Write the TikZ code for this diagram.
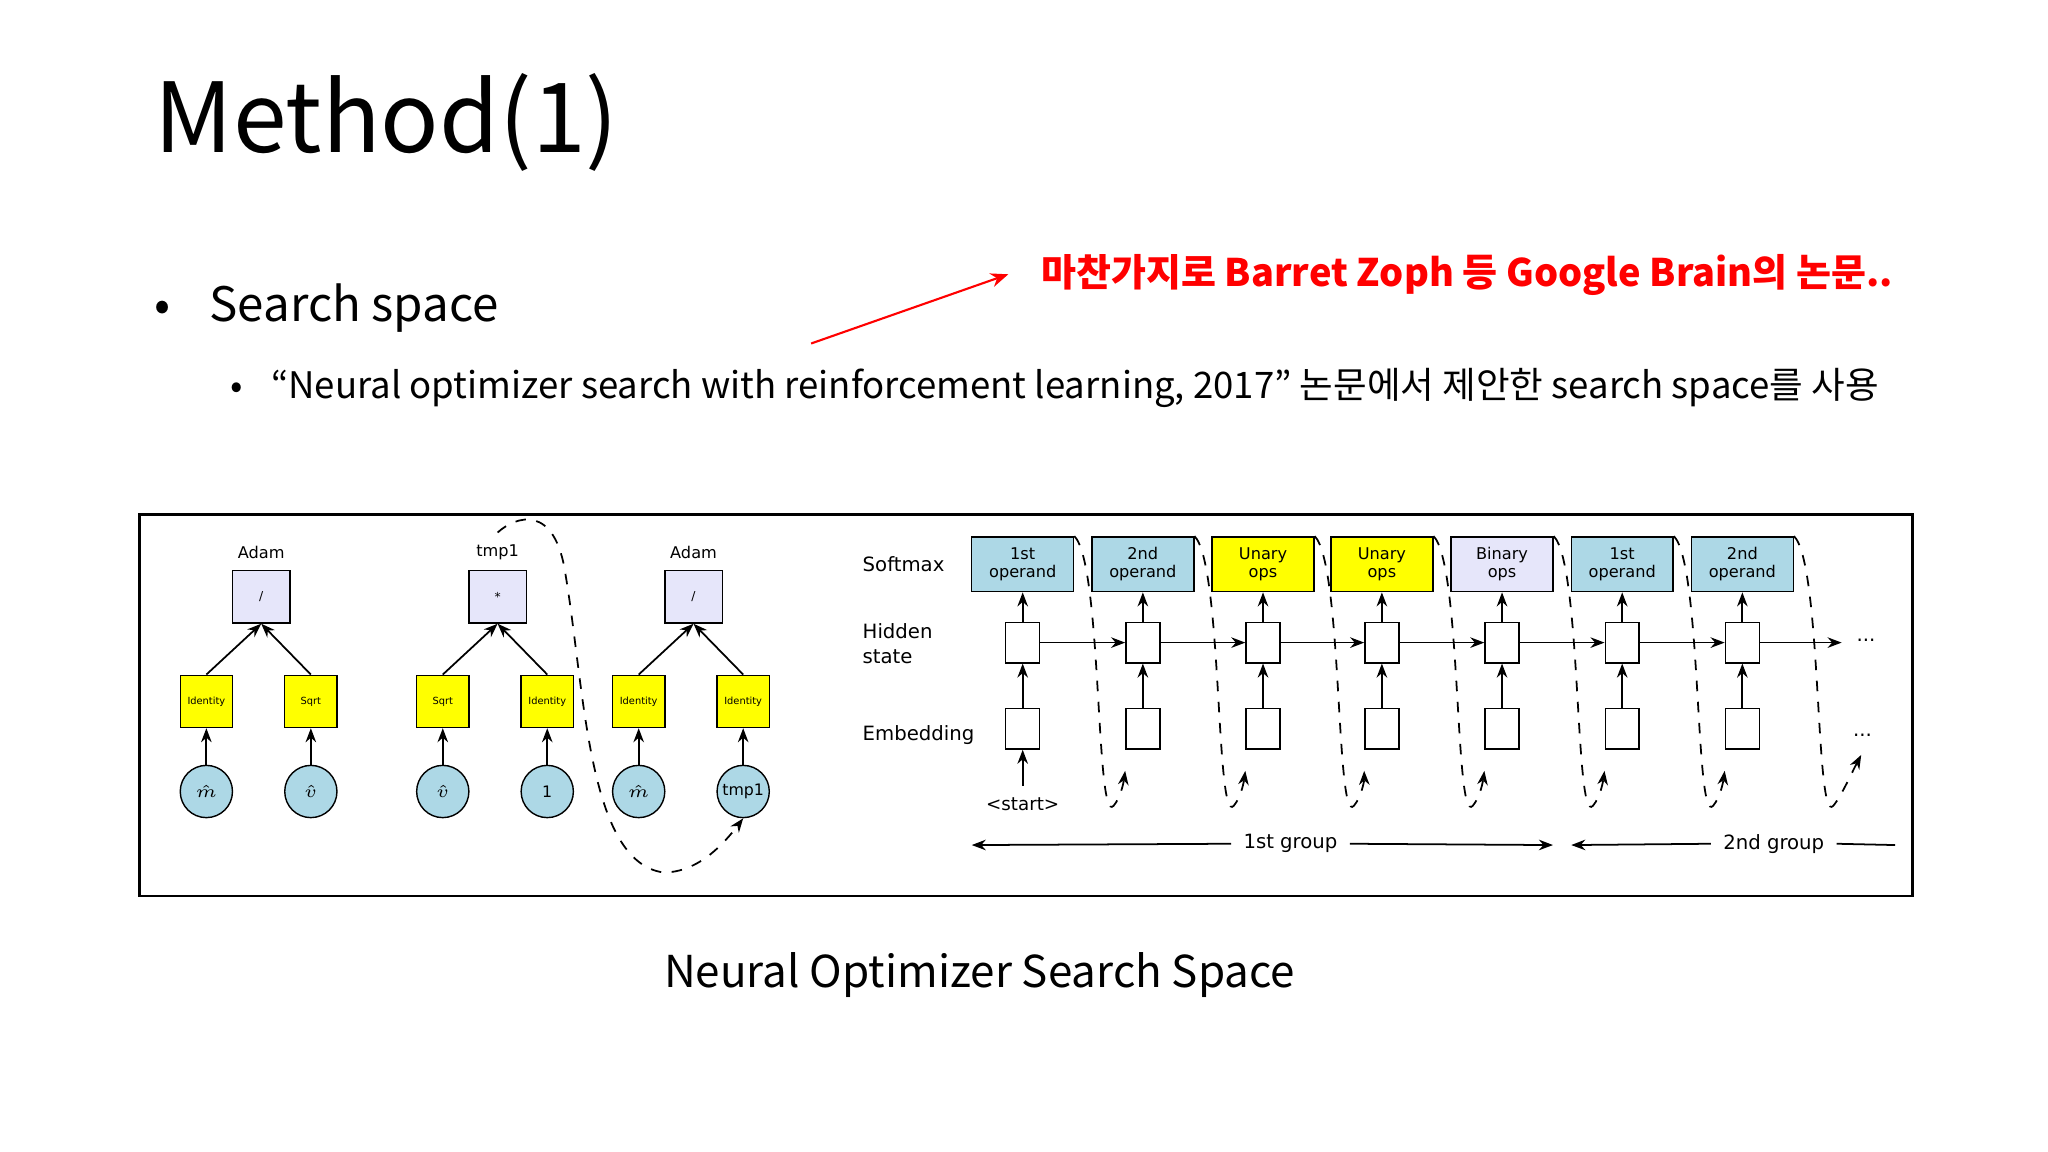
\documentclass[tikz,border=0pt]{standalone}
\usepackage{fontspec}
\setmainfont{Noto Sans CJK KR}
\newfontfamily\dv{DejaVu Sans}
\usetikzlibrary{arrows.meta}
\definecolor{lb}{RGB}{173,216,230}
\definecolor{lav}{RGB}{230,230,250}
\definecolor{yl}{RGB}{255,255,0}
\begin{document}
\begin{tikzpicture}[x=0.01306cm,y=-0.01306cm,
  op/.style={draw,fill=lav,minimum width=44*0.01306cm,minimum height=40*0.01306cm,inner sep=0pt,font=\dv\fontsize{3.5}{4}\selectfont},
  yb/.style={draw,fill=yl,minimum width=40*0.01306cm,minimum height=40*0.01306cm,inner sep=0pt,font=\dv\fontsize{2.8}{3}\selectfont},
  cir/.style={draw,fill=lb,circle,minimum size=40*0.01306cm,inner sep=0pt,font=\dv\fontsize{4.5}{5}\selectfont},
  sm/.style={draw,minimum width=78*0.01306cm,minimum height=42*0.01306cm,inner sep=0pt,align=center,font=\dv\fontsize{4.6}{5.2}\selectfont},
  hb/.style={draw,fill=white,minimum width=26*0.01306cm,minimum height=31*0.01306cm,inner sep=0pt},
  lbl/.style={font=\dv\fontsize{5.6}{7}\selectfont},
  ar/.style={-{Stealth[length=4pt,width=3pt]},line width=0.5pt},
  dsh/.style={dashed,line width=0.5pt,dash pattern=on 3pt off 3pt}]
\fill[white] (0,0) rectangle (1568,882);
\useasboundingbox (0,0) rectangle (1568,882);
\node[anchor=base west,inner sep=0pt,font=\fontsize{27.5}{30}\selectfont] (title) at (118,117) {Method(1)};
\node[anchor=base west,inner sep=0pt,font=\fontsize{13.5}{15}\selectfont] (b1) at (118,246) {•\hspace{11pt}Search space};
\node[anchor=base west,inner sep=0pt,font=\fontsize{10.4}{12}\selectfont] (b2) at (176,305) {•\hspace{8pt}“Neural optimizer search with reinforcement learning, 2017” 논문에서 제안한 search space를 사용};
\node[anchor=base west,inner sep=0pt,text=red,font=\bfseries\fontsize{10.8}{12}\selectfont] (red) at (797,219) {마찬가지로 Barret Zoph 등 Google Brain의 논문..};
\coordinate (rs) at (621,263);
\coordinate (re) at (772,210);
\draw[red,-{Stealth[length=5pt,width=4pt]},line width=0.6pt] (rs) -- (re);
\node[anchor=base,inner sep=0pt,font=\fontsize{12.5}{14}\selectfont] (cap) at (750,756) {Neural Optimizer Search Space};
\draw[line width=0.8pt] (107,394) rectangle (1464,686);
% trees
\foreach \n/\cx/\lab/\opl/\la/\lb/\ca/\cb in {A/200/Adam/{/}/Identity/Sqrt/$\hat{m}$/$\hat{v}$, B/381/tmp1/*/Sqrt/Identity/$\hat{v}$/1, C/531/Adam/{/}/Identity/Identity/$\hat{m}$/tmp1}{
  \node[lbl,font=\dv\fontsize{4.6}{5}\selectfont] (\n lab) at (\cx,423) {\lab};
  \node[op] (\n op) at (\cx,457) {\opl};
  \node[yb] (\n l) at (\cx-42,537) {\la};
  \node[yb] (\n r) at (\cx+38,537) {\lb};
  \node[cir] (\n cl) at (\cx-42,606) {\ca};
  \node[cir] (\n cr) at (\cx+38,606) {\cb};
  \draw[ar] (\n l.north) -- (\n op.south);
  \draw[ar] (\n r.north) -- (\n op.south);
  \draw[ar] (\n cl) -- (\n l);
  \draw[ar] (\n cr) -- (\n r);
}
\draw[dsh,-{Stealth[length=4pt,width=3pt]}] (Blab.north) .. controls (395,395) and (425,385) .. (433,440) .. controls (448,530) and (450,660) .. (508,668) .. controls (535,668) and (555,645) .. (Ccr.south);
% RNN
\node[lbl,anchor=west] (ls) at (651,432) {Softmax};
\node[lbl,anchor=west,align=left] (lh) at (651,493) {Hidden\\state};
\node[lbl,anchor=west] (le) at (651,563) {Embedding};
\foreach \i/\x/\c/\t in {1/783/lb/{1st\\operand},2/875/lb/{2nd\\operand},3/967/yl/{Unary\\ops},4/1058/yl/{Unary\\ops},5/1150/lav/{Binary\\ops},6/1242/lb/{1st\\operand},7/1334/lb/{2nd\\operand}}{
  \node[sm,fill=\c] (s\i) at (\x,432) {\t};
  \node[hb] (h\i) at (\x,492) {};
  \node[hb] (e\i) at (\x,558) {};
  \draw[ar] (h\i) -- (s\i);
  \draw[ar] (e\i) -- (h\i);
}
\node[lbl,font=\dv\fontsize{5.2}{6}\selectfont] (st) at (783,616) {<start>};
\draw[ar] (st) -- (e1);
\foreach \i/\j in {1/2,2/3,3/4,4/5,5/6,6/7}{
  \draw[ar] (h\i) -- (h\j);
  \draw[dsh,-{Stealth[length=4pt,width=3pt]}] (s\i.north east) .. controls ([xshift=8]s\i.east) and ([shift={(16,200)}]s\i.east) .. ([shift={(30,185)}]s\i.east) .. controls ([shift={(36,178)}]s\i.east) and ([shift={(38,165)}]s\i.east) .. ([yshift=-6]e\j.south west);
}
\coordinate (hend) at (1410,492);
\node[lbl,anchor=west] (hd) at (1412,490) {...};
\draw[ar] (h7) -- (hend);
\coordinate (eend) at (1425,578);
\node[lbl] (ed) at (1426,563) {...};
\draw[dsh,-{Stealth[length=4pt,width=3pt]}] (s7.north east) .. controls ([xshift=8]s7.east) and ([shift={(16,200)}]s7.east) .. ([shift={(30,185)}]s7.east) .. controls ([shift={(36,178)}]s7.east) and ([shift={(44,160)}]s7.east) .. (eend);
\node[lbl] (g1) at (988,646) {1st group};
\node[lbl] (g2) at (1358,646) {2nd group};
\coordinate (g1l) at (744,647); \coordinate (g1r) at (1189,647);
\coordinate (g2l) at (1203,647); \coordinate (g2r) at (1451,647);
\draw[ar] (g1.west) -- (g1l);
\draw[ar] (g1.east) -- (g1r);
\draw[ar] (g2.west) -- (g2l);
\draw[line width=0.5pt] (g2.east) -- (g2r);
\end{tikzpicture}
\end{document}
